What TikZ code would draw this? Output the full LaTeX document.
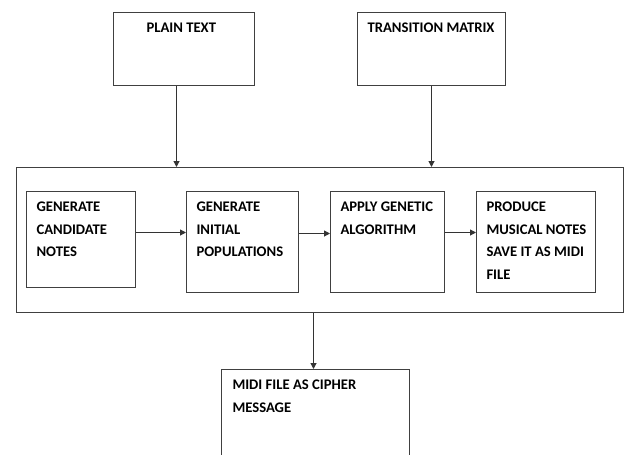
\documentclass[tikz,border=0pt]{standalone}
\usepackage{fontspec}
\setmainfont{Carlito}[BoldFont={Carlito Bold}]
\usetikzlibrary{arrows.meta}
\newdimen\px \px=0.75pt
\newcommand{\boxtxt}[4]{\parbox[c][#2\px][t]{#1\px}{\raggedright\leftskip=#3\px\bfseries\fontsize{11}{16.875}\selectfont\rule{0pt}{15pt}#4\par}}
\tikzset{
  boxnode/.style={draw=black!75, line width=0.75pt, inner sep=0pt, anchor=north west},
  arr/.style={draw=black!80, line width=0.75pt, -{Triangle[length=4.5pt,width=4.5pt]}},
}
\begin{document}
\begin{tikzpicture}[x=0.75pt,y=-0.75pt]
\useasboundingbox (0,0) rectangle (624,454);
\clip (0,0) rectangle (624,454);
\fill[white] (0,0) rectangle (624,454);
\node[boxnode] (pt) at (113,12) {\boxtxt{141}{73}{33}{PLAIN TEXT}};
\node[boxnode] (tm) at (357,12) {\boxtxt{148}{73}{10}{TRANSITION MATRIX}};
\node[boxnode, minimum width=455.25pt, minimum height=108.75pt] (big) at (16,167) {};
\node[boxnode] (b1) at (26,191) {\boxtxt{109}{96}{10}{GENERATE\\CANDIDATE\\NOTES}};
\node[boxnode] (b2) at (186,191) {\boxtxt{112}{101}{10}{GENERATE\\INITIAL\\POPULATIONS}};
\node[boxnode] (b3) at (330,191) {\boxtxt{114}{101}{10}{APPLY GENETIC\\ALGORITHM}};
\node[boxnode] (b4) at (476,191) {\boxtxt{119}{101}{10}{PRODUCE\\MUSICAL NOTES\\SAVE IT AS MIDI\\FILE}};
\node[boxnode] (bot) at (221,369) {\boxtxt{188}{110}{11}{MIDI FILE AS CIPHER\\MESSAGE}};
\draw[arr] ([xshift=-5.625pt]pt.south) -- ([xshift=-5.625pt]pt.south |- big.north);
\draw[arr] (tm.south) -- (tm.south |- big.north);
\draw[arr] ([xshift=-1.5pt]bot.north |- big.south) -- ([xshift=-1.5pt]bot.north);
\draw[arr] ([yshift=5.25pt]b1.east) -- ([yshift=5.25pt]b1.east -| b2.west);
\draw[arr] ([yshift=6.375pt]b2.east) -- ([yshift=6.375pt]b2.east -| b3.west);
\draw[arr] ([yshift=7.125pt]b3.east) -- ([yshift=7.125pt]b3.east -| b4.west);
\end{tikzpicture}
\end{document}
